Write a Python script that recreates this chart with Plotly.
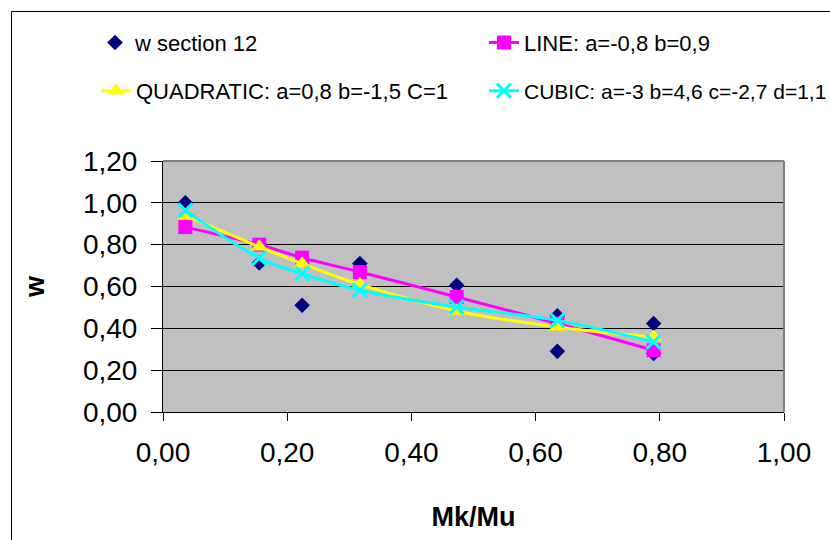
import plotly.graph_objects as go

# ---- data ----
obs_x = [0.036, 0.155, 0.224, 0.317, 0.473, 0.635, 0.635, 0.790, 0.790]
obs_y = [1.00, 0.712, 0.51, 0.71, 0.606, 0.46, 0.29, 0.423, 0.28]

fit_x = [0.036, 0.155, 0.224, 0.317, 0.473, 0.635, 0.790]
line_y = [0.884, 0.800, 0.738, 0.669, 0.550, 0.423, 0.295]
quad_y = [0.940, 0.790, 0.709, 0.610, 0.483, 0.406, 0.358]
cubic_y = [0.964, 0.736, 0.661, 0.582, 0.502, 0.438, 0.335]

names = ["w section 12", "LINE: a=-0,8 b=0,9",
         "QUADRATIC: a=0,8 b=-1,5 C=1", "CUBIC: a=-3 b=4,6 c=-2,7 d=1,1"]
x_ticks = [0.0, 0.2, 0.4, 0.6, 0.8, 1.0]
y_ticks = [0.0, 0.2, 0.4, 0.6, 0.8, 1.0, 1.2]

FONT = "Arial, Liberation Sans, sans-serif"

fig = go.Figure()
fig.add_trace(go.Scatter(x=obs_x, y=obs_y, mode="markers", name=names[0],
                         marker=dict(symbol="diamond", size=12, color="#000080"),
                         legend="legend", showlegend=True))
fig.add_trace(go.Scatter(x=fit_x, y=line_y, mode="lines+markers", name=names[1],
                         line=dict(color="#FF00FF", width=3, shape="spline"),
                         marker=dict(symbol="square", size=14, color="#FF00FF"),
                         legend="legend2", showlegend=True))
fig.add_trace(go.Scatter(x=fit_x, y=quad_y, mode="lines+markers", name=names[2],
                         line=dict(color="#FFFF00", width=3, shape="spline"),
                         marker=dict(symbol="triangle-up", size=15, color="#FFFF00"),
                         legend="legend3", showlegend=True))
fig.add_trace(go.Scatter(x=fit_x, y=cubic_y, mode="lines+markers", name=names[3],
                         line=dict(color="#00FFFF", width=3, shape="spline"),
                         marker=dict(symbol="x-thin", size=14, color="#00FFFF",
                                     line=dict(color="#00FFFF", width=3)),
                         legend="legend4", showlegend=True))

L, R, T, B = 163, 46, 161, 128
W, H = 830, 540
pw, ph = W - L - R, H - T - B

def px(xp):
    return (xp - L) / pw

def py(yp):
    return (H - B - yp) / ph

def leg(xp, yp, size=22):
    return dict(orientation="h", x=px(xp), y=py(yp),
                font=dict(family=FONT, size=size, color="black"),
                bgcolor="rgba(0,0,0,0)", xanchor="left", yanchor="middle")

fig.update_layout(
    width=W, height=H,
    margin=dict(l=L, r=R, t=T, b=B, autoexpand=False),
    paper_bgcolor="white",
    plot_bgcolor="#C0C0C0",
    separators=", ",
    showlegend=True,
    font=dict(family=FONT, color="black"),
    legend=leg(95, 42.7),
    legend2=leg(484, 42.7),
    legend3=leg(96, 91),
    legend4=leg(484, 91, 21),
    xaxis=dict(range=[0, 1], tickvals=x_ticks, tickformat=".2f",
               showgrid=False, zeroline=False,
               showline=True, linecolor="black", linewidth=1,
               ticks="outside", ticklen=8, tickcolor="black",
               ticklabelstandoff=7,
               tickfont=dict(family=FONT, size=28, color="black"),
               title=dict(text="<b>Mk/Mu</b>", font=dict(family=FONT, size=27, color="black"),
                          standoff=40)),
    yaxis=dict(range=[0, 1.2], tickvals=y_ticks, tickformat=".2f",
               showgrid=True, gridcolor="black", gridwidth=1, zeroline=False,
               showline=True, linecolor="black", linewidth=1,
               ticks="outside", ticklen=11, tickcolor="black",
               ticklabelstandoff=8,
               tickfont=dict(family=FONT, size=28, color="black"),
               title=dict(text="<b>w</b>", font=dict(family=FONT, size=27, color="black"),
                          standoff=30)),
    shapes=[
        dict(type="line", xref="paper", yref="paper", x0=0, x1=1, y0=1, y1=1,
             line=dict(color="#808080", width=2)),
        dict(type="line", xref="paper", yref="paper", x0=1, x1=1, y0=0, y1=1,
             line=dict(color="#808080", width=2)),
        dict(type="rect", xref="paper", yref="paper",
             x0=px(11.5), x1=px(840), y0=py(550), y1=py(11.5),
             line=dict(color="black", width=1), fillcolor="rgba(0,0,0,0)"),
    ],
)

fig.write_html("out.html")
